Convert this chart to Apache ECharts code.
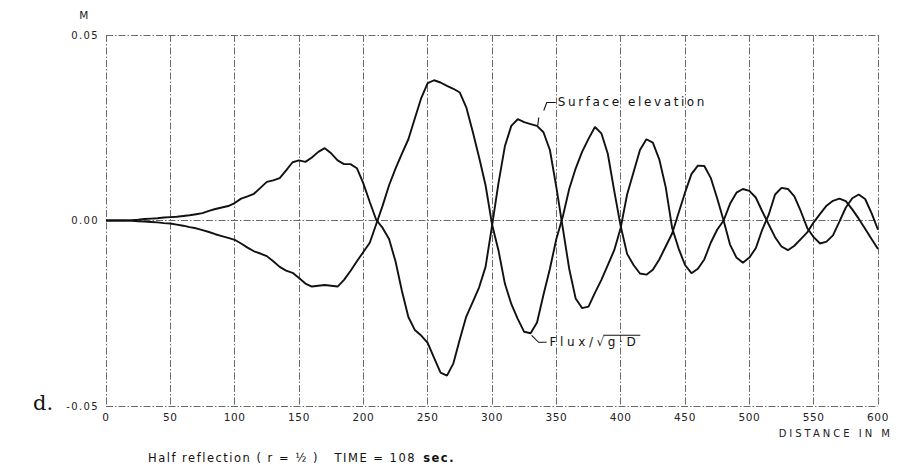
<!DOCTYPE html>
<html>
<head>
<meta charset="utf-8">
<script src="https://cdn.jsdelivr.net/npm/echarts@6/dist/echarts.min.js"></script>
<style>
  html, body { margin: 0; padding: 0; background: #fff; }
  #chart { width: 898px; height: 469px; }
</style>
</head>
<body>
<div id="chart"></div>
<script>
// Distance along the channel (m)
const distance = [
  0, 5, 10, 15, 20, 25, 30, 35, 40, 45,
  50, 55, 60, 65, 70, 75, 80, 85, 90, 95,
  100, 105, 110, 115, 120, 125, 130, 135, 140, 145,
  150, 155, 160, 165, 170, 175, 180, 185, 190, 195,
  200, 205, 210, 215, 220, 225, 230, 235, 240, 245,
  250, 255, 260, 265, 270, 275, 280, 285, 290, 295,
  300, 305, 310, 315, 320, 325, 330, 335, 340, 345,
  350, 355, 360, 365, 370, 375, 380, 385, 390, 395,
  400, 405, 410, 415, 420, 425, 430, 435, 440, 445,
  450, 455, 460, 465, 470, 475, 480, 485, 490, 495,
  500, 505, 510, 515, 520, 525, 530, 535, 540, 545,
  550, 555, 560, 565, 570, 575, 580, 585, 590, 595,
  600
];

// Surface elevation (m)
const surfaceElevation = [
  0, 0, 0, 0, 0.0001, 0.0002, 0.0004, 0.0005, 0.0006, 0.0008,
  0.0009, 0.0010, 0.0012, 0.0014, 0.0017, 0.0020, 0.0026, 0.0031, 0.0035, 0.0039,
  0.0047, 0.0059, 0.0065, 0.0072, 0.0088, 0.0104, 0.0108, 0.0114, 0.0135, 0.0157,
  0.0162, 0.0158, 0.0170, 0.0185, 0.0195, 0.0181, 0.0162, 0.0152, 0.0152, 0.0141,
  0.0100, 0.0050, 0.0002, -0.0020, -0.0050, -0.0110, -0.0190, -0.0260, -0.0295, -0.0310,
  -0.0330, -0.0370, -0.0410, -0.0418, -0.0385, -0.0320, -0.0259, -0.0220, -0.0180, -0.0125,
  -0.0015, 0.0100, 0.0200, 0.0255, 0.0273, 0.0265, 0.0260, 0.0255, 0.0238, 0.0190,
  0.0090, -0.0020, -0.0130, -0.0210, -0.0236, -0.0232, -0.0195, -0.0160, -0.0120, -0.0080,
  -0.0020, 0.0070, 0.0130, 0.0190, 0.0219, 0.0210, 0.0165, 0.0090, -0.0020, -0.0075,
  -0.0120, -0.0142, -0.0130, -0.0105, -0.0060, -0.0025, 0.0000, 0.0045, 0.0075, 0.0085,
  0.0080, 0.0062, 0.0025, -0.0010, -0.0045, -0.0070, -0.0080, -0.0068, -0.0050, -0.0032,
  -0.0005, 0.0018, 0.0040, 0.0053, 0.0059, 0.0052, 0.0030, 0.0005, -0.0022, -0.0050,
  -0.0077
];

// Flux divided by sqrt(g*D) (m)
const fluxScaled = [
  0, 0, 0, 0, -0.0001, -0.0002, -0.0003, -0.0004, -0.0005, -0.0007,
  -0.0008, -0.0011, -0.0014, -0.0018, -0.0021, -0.0026, -0.0031, -0.0037, -0.0042, -0.0047,
  -0.0052, -0.0062, -0.0073, -0.0083, -0.0089, -0.0096, -0.0110, -0.0125, -0.0135, -0.0141,
  -0.0155, -0.0170, -0.0178, -0.0176, -0.0174, -0.0176, -0.0178, -0.0160, -0.0136, -0.0110,
  -0.0085, -0.0060, -0.0010, 0.0040, 0.0095, 0.0140, 0.0180, 0.0219, 0.0275, 0.0330,
  0.0370, 0.0378, 0.0372, 0.0363, 0.0355, 0.0345, 0.0305, 0.0240, 0.0170, 0.0095,
  -0.0010, -0.0080, -0.0170, -0.0225, -0.0265, -0.0300, -0.0304, -0.0275, -0.0200, -0.0130,
  -0.0050, 0.0010, 0.0085, 0.0140, 0.0185, 0.0220, 0.0252, 0.0235, 0.0180, 0.0080,
  -0.0015, -0.0090, -0.0120, -0.0143, -0.0146, -0.0133, -0.0105, -0.0070, -0.0035, 0.0020,
  0.0075, 0.0125, 0.0148, 0.0147, 0.0115, 0.0060, 0.0000, -0.0065, -0.0100, -0.0114,
  -0.0100, -0.0075, -0.0025, 0.0015, 0.0070, 0.0088, 0.0085, 0.0065, 0.0025, -0.0020,
  -0.0045, -0.0062, -0.0057, -0.0040, -0.0003, 0.0035, 0.0060, 0.0070, 0.0058, 0.0020,
  -0.0025
];

// Axis ticks
const xTicks = [0, 50, 100, 150, 200, 250, 300, 350, 400, 450, 500, 550, 600];
const yTicks = [-0.05, 0.00, 0.05];

// Text
const yUnit = 'M';
const xAxisTitle = 'DISTANCE IN M';
const panelTag = 'd.';
const captionMain = 'Half reflection ( r = ½ )   TIME = 108';
const captionUnit = 'sec.';
const surfaceLabel = 'Surface elevation';
const fluxLabel = 'Flux/√g·D';

const FONT = '"DejaVu Sans", "Liberation Sans", sans-serif';
const INK = '#111';
const GRIDLINE = {
  color: '#6a6a6a',
  width: 1,
  type: [7, 2, 1.5, 2]
};

const chart = echarts.init(document.getElementById('chart'), null, { renderer: 'svg' });

const pairs = vals => distance.map((d, i) => [d, vals[i]]);

chart.setOption({
  animation: false,
  backgroundColor: '#fff',
  grid: { left: 106, right: 20, top: 35, bottom: 63, containLabel: false },
  xAxis: {
    type: 'value',
    min: xTicks[0],
    max: xTicks[xTicks.length - 1],
    interval: xTicks[1] - xTicks[0],
    axisLine: { show: false },
    axisTick: { show: false },
    splitLine: { show: true, showMinLine: true, showMaxLine: true, lineStyle: GRIDLINE },
    axisLabel: {
      margin: 5,
      color: '#222',
      fontFamily: FONT,
      fontSize: 10.5,
      formatter: v => String(v)
    }
  },
  yAxis: {
    type: 'value',
    min: yTicks[0],
    max: yTicks[yTicks.length - 1],
    interval: yTicks[1] - yTicks[0],
    axisLine: { show: false },
    axisTick: { show: false },
    splitLine: { show: true, showMinLine: true, showMaxLine: true, lineStyle: GRIDLINE },
    axisLabel: {
      margin: 7,
      color: '#222',
      fontFamily: FONT,
      fontSize: 10,
      formatter: v => v.toFixed(2)
    }
  },
  series: [
    {
      name: surfaceLabel,
      type: 'line',
      data: pairs(surfaceElevation),
      showSymbol: false,
      smooth: false,
      lineStyle: { color: INK, width: 1.9 },
      z: 3
    },
    {
      name: fluxLabel,
      type: 'line',
      data: pairs(fluxScaled),
      showSymbol: false,
      smooth: false,
      lineStyle: { color: INK, width: 1.9 },
      z: 3
    }
  ]
});

// Annotation leaders, anchored to points on each curve
const surfAnchor = chart.convertToPixel({ gridIndex: 0 }, [334, 0.0256]);
const fluxAnchor = chart.convertToPixel({ gridIndex: 0 }, [330, -0.0304]);
const gridTop = chart.convertToPixel({ gridIndex: 0 }, [0, yTicks[yTicks.length - 1]]);
const gridBottomRight = chart.convertToPixel({ gridIndex: 0 }, [xTicks[xTicks.length - 1], yTicks[0]]);

const thin = { stroke: INK, lineWidth: 1.1, fill: null };
const txt = (x, y, text, extra) => ({
  type: 'text',
  x, y,
  style: Object.assign({
    text,
    fill: INK,
    font: '12px ' + FONT,
    textAlign: 'left',
    textVerticalAlign: 'middle'
  }, extra || {})
});

// rendered width of a string with extra letter spacing
function measure(str, font, spacing) {
  const c = document.createElement('canvas').getContext('2d');
  c.font = font;
  return c.measureText(str).width + spacing * str.length;
}
const annoFont = '12px ' + FONT;
const annoSpacing = 2.6;
const fluxSpacing = 3.6;
const fluxTextX = fluxAnchor[0] + 19;
const fluxTextY = fluxAnchor[1] + 9;
const radStart = fluxTextX + measure('Flux/√', annoFont, fluxSpacing) - fluxSpacing - 1;
const radEnd = fluxTextX + measure(fluxLabel, annoFont, fluxSpacing) + 1;

const capFont = '11.5px ' + FONT;
const capSpacing = 1.5;
const capX = 148;
const capY = gridBottomRight[1] + 52;
const capUnitX = capX + measure(captionMain + ' ', capFont, capSpacing) + 2;

chart.setOption({
  graphic: [
    // surface elevation leader
    { type: 'line', shape: { x1: surfAnchor[0] + 2, y1: surfAnchor[1], x2: surfAnchor[0] + 3, y2: surfAnchor[1] - 8 }, style: thin },
    { type: 'polyline', shape: { points: [
      [surfAnchor[0] + 8, surfAnchor[1] - 15],
      [surfAnchor[0] + 11, surfAnchor[1] - 23],
      [surfAnchor[0] + 20, surfAnchor[1] - 23]
    ] }, style: thin },
    txt(surfAnchor[0] + 22, surfAnchor[1] - 24, surfaceLabel),
    // flux leader
    { type: 'polyline', shape: { points: [
      [fluxAnchor[0] + 1, fluxAnchor[1] + 2],
      [fluxAnchor[0] + 8, fluxAnchor[1] + 9],
      [fluxAnchor[0] + 16, fluxAnchor[1] + 9]
    ] }, style: thin },
    txt(fluxTextX, fluxTextY, fluxLabel),
    { type: 'line', shape: { x1: radStart, y1: fluxTextY - 7, x2: radEnd, y2: fluxTextY - 7 }, style: thin },
    // unit above the vertical axis
    txt(84, gridTop[1] - 20, yUnit, { textAlign: 'center', font: '10.5px ' + FONT, fill: '#222' }),
    // horizontal axis title
    txt(gridBottomRight[0] + 15, gridBottomRight[1] + 27, xAxisTitle, { textAlign: 'right', font: '10px ' + FONT, fill: '#222' }),
    // panel tag
    txt(43, gridBottomRight[1] - 3, panelTag, { textAlign: 'center', font: '21px "DejaVu Serif", "Liberation Serif", serif', fill: '#111' }),
    // caption
    txt(capX, capY, captionMain, { font: capFont, fill: '#111' }),
    txt(capUnitX, capY, captionUnit, { font: 'bold ' + capFont, fill: '#111' })
  ]
});

// Wide plotter-style lettering for the labels
function spaceLetters() {
  const spacingFor = {};
  spacingFor[surfaceLabel] = annoSpacing;
  spacingFor[fluxLabel] = fluxSpacing;
  spacingFor[xAxisTitle] = 3;
  spacingFor[captionMain] = capSpacing;
  spacingFor[captionUnit] = capSpacing;
  spacingFor[panelTag] = 0;
  document.querySelectorAll('#chart svg text').forEach(t => {
    const s = t.textContent;
    let sp = 0.6;
    if (s in spacingFor) sp = spacingFor[s];
    else if (/^-?\d\.\d\d$/.test(s)) sp = 1.4;
    t.style.letterSpacing = sp + 'px';
  });
}
spaceLetters();
chart.on('finished', spaceLetters);
</script>
</body>
</html>
